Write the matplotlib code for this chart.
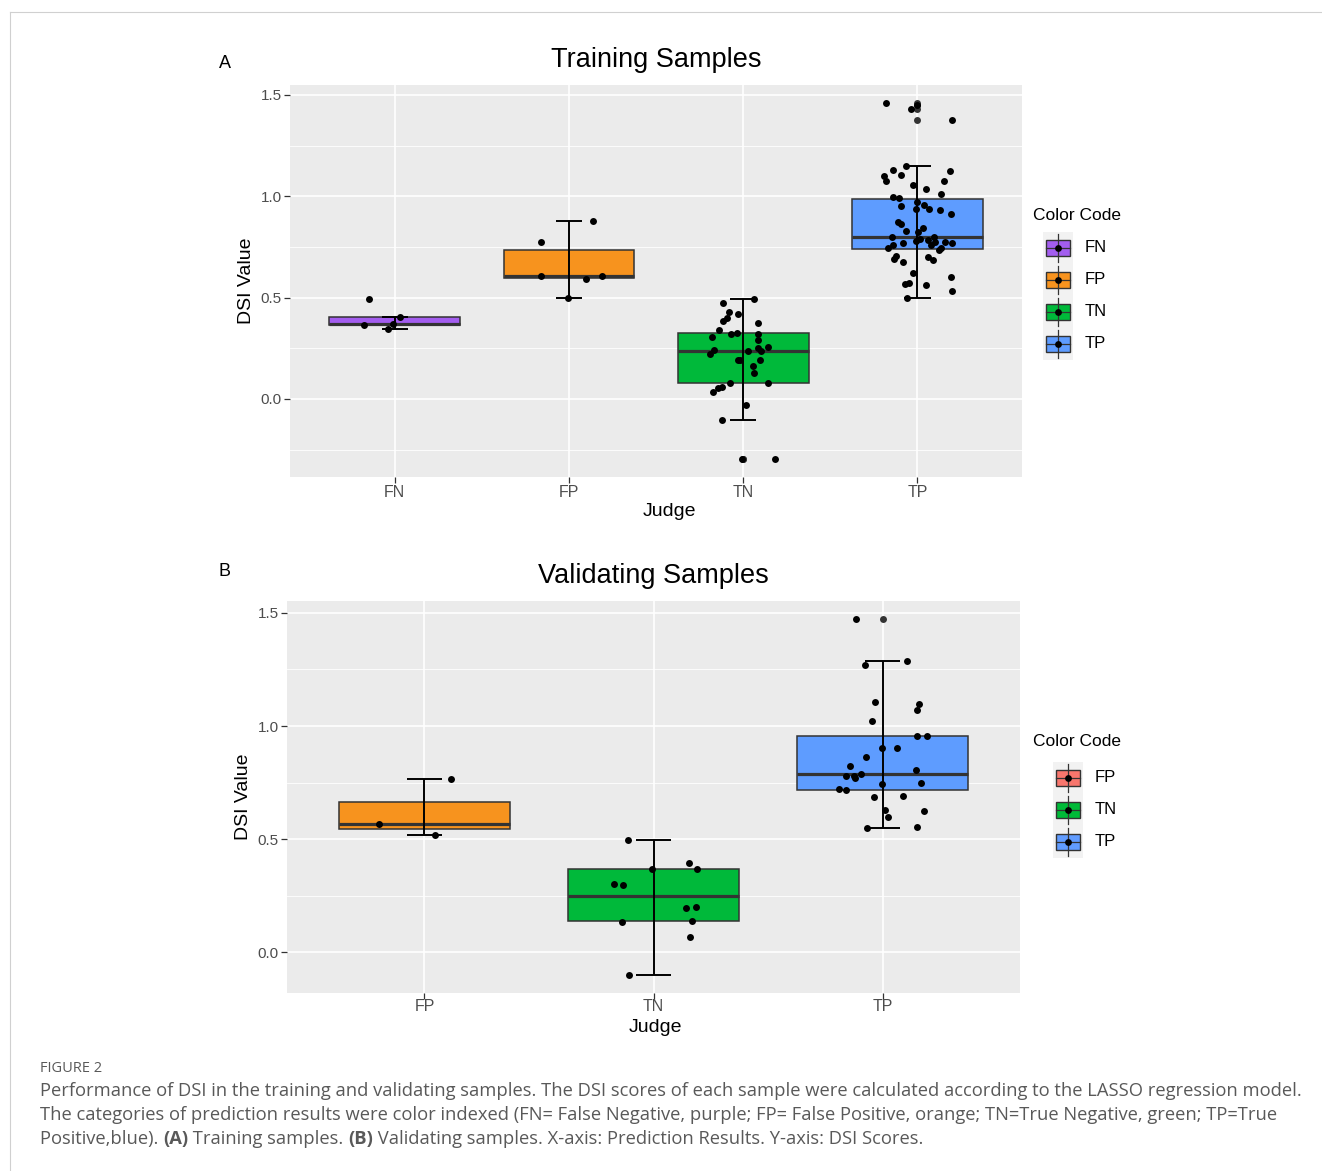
import matplotlib
matplotlib.use("Agg")
import matplotlib.pyplot as plt
from matplotlib.patches import Rectangle
from matplotlib.lines import Line2D
import numpy as np

plt.rcParams['font.family'] = ['Liberation Sans', 'DejaVu Sans']

# ---------------- data: training samples ----------------
train_cats = ["FN", "FP", "TN", "TP"]
train_colors = ["#A35DEF", "#F7931E", "#00B93A", "#5E9CFF"]
train_q1 = [0.364, 0.596, 0.077, 0.739]
train_med = [0.368, 0.607, 0.235, 0.798]
train_q3 = [0.404, 0.733, 0.324, 0.985]
train_lo = [0.345, 0.499, -0.105, 0.496]
train_hi = [0.404, 0.877, 0.493, 1.151]
train_out_FN = []
train_out_FP = []
train_out_TN = [-0.296, -0.294]
train_out_TP = [1.460, 1.448, 1.432, 1.378]

train_FN_y = [0.493, 0.366, 0.343, 0.368, 0.404]
train_FN_dx = [-0.149, -0.177, -0.040, -0.011, 0.029]
train_FP_y = [0.877, 0.775, 0.606, 0.593, 0.608, 0.499]
train_FP_dx = [0.139, -0.162, -0.162, 0.097, 0.189, -0.006]
train_TN_y = [0.474, 0.493, 0.430, 0.419, 0.397, 0.383, 0.374, 0.340, 0.307, 0.320,
              0.323, 0.322, 0.291, 0.253, 0.256, 0.236, 0.240, 0.222, 0.235, 0.191,
              0.191, 0.194, 0.163, 0.128, 0.079, 0.079, 0.058, 0.054, 0.034, -0.031,
              -0.105, -0.296, -0.294]
train_TN_dx = [-0.116, 0.063, -0.084, -0.032, -0.093, -0.116, 0.088, -0.139, -0.179, -0.067,
               -0.036, 0.084, 0.088, 0.088, 0.141, 0.101, -0.170, -0.190, 0.027, -0.027,
               -0.017, 0.095, 0.055, 0.063, -0.076, 0.141, -0.122, -0.147, -0.173, 0.015,
               -0.124, -0.006, 0.183]
train_TP_y = [1.460, 1.448, 1.432, 1.378,
              1.151, 1.131, 1.125, 1.100, 1.105, 1.074, 1.075, 1.057, 1.036, 1.010,
              0.998, 0.993, 0.972, 0.954, 0.959, 0.939, 0.939, 0.934, 0.911, 0.873,
              0.862, 0.844, 0.831, 0.826, 0.797, 0.791, 0.780, 0.783, 0.797, 0.775,
              0.759, 0.775, 0.770, 0.770, 0.762, 0.744, 0.744, 0.734, 0.706, 0.690,
              0.675, 0.701, 0.688, 0.622, 0.603, 0.568, 0.570, 0.560, 0.532, 0.496]
train_TP_dx = [-0.180, -0.005, -0.035, 0.196,
               -0.067, -0.143, 0.185, -0.189, -0.095, -0.181, 0.150, -0.023, 0.051, 0.135,
               -0.141, -0.103, -0.004, -0.095, 0.040, 0.065, -0.011, 0.130, 0.192, -0.109,
               -0.095, 0.034, -0.067, 0.004, -0.147, 0.017, -0.006, 0.061, 0.095, 0.099,
               0.078, 0.160, 0.196, -0.082, -0.139, -0.166, 0.135, 0.126, -0.122, -0.133,
               -0.084, 0.059, 0.087, -0.027, 0.190, -0.074, -0.046, 0.051, 0.198, -0.057]

# ---------------- data: validating samples ----------------
valid_cats = ["FP", "TN", "TP"]
valid_colors = ["#F7931E", "#00B93A", "#5E9CFF"]
valid_legend_colors = ["#F8766D", "#00BA38", "#619CFF"]
valid_q1 = [0.544, 0.136, 0.718]
valid_med = [0.566, 0.249, 0.789]
valid_q3 = [0.664, 0.367, 0.954]
valid_lo = [0.520, -0.103, 0.550]
valid_hi = [0.765, 0.494, 1.286]
valid_out_FP = []
valid_out_TN = []
valid_out_TP = [1.475]

valid_FP_y = [0.765, 0.566, 0.518]
valid_FP_dx = [0.114, -0.197, 0.048]
valid_TN_y = [0.494, 0.369, 0.395, 0.367, 0.302, 0.296, 0.195, 0.201, 0.131, 0.139, 0.065, -0.103]
valid_TN_dx = [-0.112, -0.006, 0.157, 0.188, -0.172, -0.131, 0.141, 0.186, -0.138, 0.167, 0.159, -0.106]
valid_TP_y = [1.475, 1.286, 1.271, 1.108, 1.096, 1.072, 1.024, 0.954, 0.954, 0.904,
              0.901, 0.861, 0.822, 0.779, 0.779, 0.770, 0.789, 0.804, 0.723, 0.718,
              0.743, 0.748, 0.687, 0.689, 0.627, 0.622, 0.596, 0.550, 0.552]
valid_TP_dx = [-0.118, 0.106, -0.076, -0.032, 0.157, 0.151, -0.048, 0.150, 0.192, -0.004,
               0.062, -0.073, -0.143, -0.159, -0.125, -0.119, -0.096, 0.147, -0.192, -0.160,
               -0.003, 0.169, -0.036, 0.090, 0.009, 0.180, 0.022, -0.067, 0.150]

yticks = [0.0, 0.5, 1.0, 1.5]
yminor = [-0.25, 0.25, 0.75, 1.25]

W, H = 1322, 1171
fig = plt.figure(figsize=(W / 100, H / 100), dpi=100)


def px_rect(l, t, r, b):
    return [l / W, 1 - b / H, (r - l) / W, (b - t) / H]


def draw_panel(ax, cats, colors, q1, med, q3, lo, hi, outs, ys, dxs, ylim, title, xlab_x, xpad):
    n = len(cats)
    pos = np.arange(1, n + 1)
    ax.set_facecolor("#EBEBEB")
    for s in ax.spines.values():
        s.set_visible(False)
    for v in yminor:
        ax.axhline(v, color="white", lw=0.6, zorder=0)
    for v in yticks:
        ax.axhline(v, color="white", lw=1.2, zorder=0)
    for p in pos:
        ax.axvline(p, color="white", lw=1.2, zorder=0)
    stats = []
    for i in range(n):
        stats.append(dict(q1=q1[i], med=med[i], q3=q3[i], whislo=q1[i], whishi=q3[i], fliers=[]))
    bp = ax.bxp(stats, positions=pos, widths=0.75, patch_artist=True, showcaps=False,
                showfliers=False, manage_ticks=False,
                boxprops=dict(edgecolor="#333333", linewidth=1.1),
                medianprops=dict(color="#333333", linewidth=2.3),
                whiskerprops=dict(linewidth=0))
    for patch, c in zip(bp["boxes"], colors):
        patch.set_facecolor(c)
        patch.set_zorder(2)
    for m in bp["medians"]:
        m.set_zorder(2.5)
    ax.vlines(pos, lo, hi, color="black", lw=1.4, zorder=3)
    ax.hlines(lo, pos - 0.075, pos + 0.075, color="black", lw=1.4, zorder=3)
    ax.hlines(hi, pos - 0.075, pos + 0.075, color="black", lw=1.4, zorder=3)
    for i in range(n):
        if len(outs[i]):
            ax.scatter(np.full(len(outs[i]), pos[i]), outs[i], s=25, color="#333333", zorder=4, linewidths=0)
        ax.scatter(pos[i] + np.array(dxs[i]), ys[i], s=25, color="black", zorder=5, linewidths=0)
    ax.set_xlim(0.4, n + 0.6)
    ax.set_ylim(*ylim)
    ax.set_xticks(pos)
    ax.set_xticklabels(cats, fontsize=11.5, color="#4D4D4D")
    ax.set_yticks(yticks)
    ax.set_yticklabels(["0.0", "0.5", "1.0", "1.5"], fontsize=11, color="#4D4D4D")
    ax.tick_params(axis="both", length=4, width=0.9, color="#333333", pad=2)
    ax.tick_params(axis="x", pad=xpad)
    ax.set_xlabel("Judge", fontsize=14)
    ax.xaxis.set_label_coords(xlab_x, -0.066)
    ax.set_ylabel("DSI Value", fontsize=14, labelpad=4)
    ax.set_title(title, fontsize=19.5, pad=13)


def draw_legend(l, t, title_x, title_y, labels, colors):
    n = len(labels)
    fig.text(title_x / W, 1 - title_y / H, "Color Code", fontsize=12.5, va="center", ha="left")
    lax = fig.add_axes(px_rect(l, t, l + 30, t + 32 * n))
    lax.set_xlim(0, 30)
    lax.set_ylim(32 * n, 0)
    lax.axis("off")
    lax.add_patch(Rectangle((0, 0), 30, 32 * n, facecolor="#F2F2F2", edgecolor="none"))
    for i, (lab, c) in enumerate(zip(labels, colors)):
        cy = 16 + 32 * i
        lax.plot([15, 15], [cy - 14, cy + 14], color="#333333", lw=0.9)
        lax.add_patch(Rectangle((3, cy - 8), 24, 16, facecolor=c, edgecolor="#333333", lw=1.0))
        lax.plot([3, 27], [cy, cy], color="#333333", lw=0.9)
        lax.scatter([15], [cy], s=24, color="black", zorder=5, linewidths=0)
        fig.text((l + 42) / W, 1 - (t + cy) / H, lab, fontsize=12, va="center", ha="left")


axA = fig.add_axes(px_rect(290, 85, 1022, 477))
draw_panel(axA, train_cats, train_colors, train_q1, train_med, train_q3, train_lo, train_hi,
           [train_out_FN, train_out_FP, train_out_TN, train_out_TP],
           [train_FN_y, train_FP_y, train_TN_y, train_TP_y],
           [train_FN_dx, train_FP_dx, train_TN_dx, train_TP_dx],
           (-0.385, 1.549), "Training Samples", 0.518, 2)

axB = fig.add_axes(px_rect(287, 601, 1020, 993))
draw_panel(axB, valid_cats, valid_colors, valid_q1, valid_med, valid_q3, valid_lo, valid_hi,
           [valid_out_FP, valid_out_TN, valid_out_TP],
           [valid_FP_y, valid_TN_y, valid_TP_y],
           [valid_FP_dx, valid_TN_dx, valid_TP_dx],
           (-0.181, 1.553), "Validating Samples", 0.503, 0)

draw_legend(1043, 232, 1033, 216, train_cats, train_colors)
draw_legend(1053, 762, 1033, 741, valid_cats, valid_legend_colors)

fig.text(219 / W, 1 - 64 / H, "A", fontsize=13, va="center", ha="left")
fig.text(219 / W, 1 - 571 / H, "B", fontsize=13, va="center", ha="left")

# frame lines
fig.add_artist(Line2D([10 / W, 1], [1 - 12 / H, 1 - 12 / H], color="#D0D0D0", lw=0.8))
fig.add_artist(Line2D([10 / W, 10 / W], [1 - 12 / H, 0], color="#D0D0D0", lw=0.8))

# caption
cap_font = ["Open Sans", "DejaVu Sans"]
cap_col = "#595959"
cap_size = 13.2
fig.text(40 / W, 1 - 1068 / H, "FIGURE 2", fontsize=10.5, color=cap_col, family=cap_font, va="center")
cap1 = ("Performance of DSI in the training and validating samples. The DSI scores of each sample "
        "were calculated according to the LASSO regression model.")
cap2 = ("The categories of prediction results were color indexed (FN= False Negative, purple; FP= False "
        "Positive, orange; TN=True Negative, green; TP=True")
fig.text(40 / W, 1 - 1091 / H, cap1, fontsize=cap_size, color=cap_col, family=cap_font, va="center")
fig.text(40 / W, 1 - 1115 / H, cap2, fontsize=cap_size, color=cap_col, family=cap_font, va="center")

pieces = [("Positive,blue). ", "normal"), ("(A)", "bold"), (" Training samples. ", "normal"),
          ("(B)", "bold"), (" Validating samples. X-axis: Prediction Results. Y-axis: DSI Scores.", "normal")]
renderer = fig.canvas.get_renderer()
x = 40
for txt, wt in pieces:
    t = fig.text(x / W, 1 - 1139 / H, txt, fontsize=cap_size, color=cap_col, family=cap_font,
                 va="center", weight=wt)
    bb = t.get_window_extent(renderer=renderer)
    x += bb.width

fig.savefig("out.png", dpi=100)
